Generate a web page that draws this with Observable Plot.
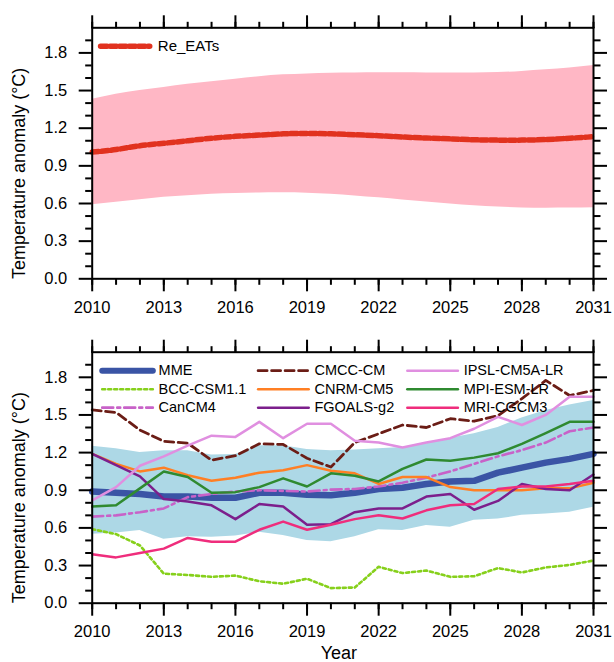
<!DOCTYPE html>
<html><head><meta charset="utf-8">
<script src="https://cdn.jsdelivr.net/npm/d3@7"></script>
<script src="https://cdn.jsdelivr.net/npm/@observablehq/plot@0.6"></script>
<style>
body{margin:0;background:#fff}
#wrap{position:relative;width:614px;height:662px;background:#fff}
#wrap svg{position:absolute;left:0;overflow:visible}
</style>
</head><body><div id="wrap"></div>
<script>
// ---------- data ----------
const years = [2010,2011,2012,2013,2014,2015,2016,2017,2018,2019,2020,2021,2022,2023,2024,2025,2026,2027,2028,2029,2030,2031];

// Top panel
const reEATs  = [1.01,1.03,1.06,1.08,1.10,1.12,1.135,1.145,1.155,1.158,1.155,1.148,1.14,1.13,1.122,1.115,1.108,1.105,1.105,1.11,1.12,1.132];
const reUpper = [1.43,1.47,1.50,1.525,1.55,1.57,1.59,1.61,1.625,1.632,1.638,1.64,1.641,1.641,1.64,1.639,1.64,1.643,1.652,1.665,1.68,1.70];
const reLower = [0.59,0.61,0.63,0.65,0.662,0.673,0.68,0.684,0.685,0.682,0.674,0.66,0.645,0.628,0.612,0.597,0.583,0.572,0.565,0.563,0.564,0.566];

// Bottom panel
const mmeUpper = [1.25,1.23,1.20,1.215,1.215,1.18,1.185,1.255,1.255,1.225,1.215,1.22,1.23,1.24,1.27,1.315,1.35,1.40,1.475,1.535,1.58,1.615];
const mmeLower = [0.55,0.56,0.58,0.51,0.53,0.525,0.535,0.565,0.54,0.50,0.49,0.53,0.585,0.58,0.62,0.605,0.66,0.67,0.70,0.71,0.725,0.765];
const MME      = [0.89,0.88,0.87,0.85,0.85,0.84,0.84,0.88,0.88,0.865,0.86,0.88,0.91,0.92,0.95,0.97,0.975,1.04,1.08,1.12,1.15,1.19];
const BCC      = [0.59,0.55,0.46,0.235,0.225,0.21,0.22,0.175,0.155,0.195,0.12,0.125,0.29,0.24,0.26,0.21,0.215,0.28,0.245,0.285,0.305,0.34];
const CanCM4   = [0.69,0.70,0.725,0.755,0.845,0.87,0.89,0.90,0.895,0.89,0.905,0.91,0.93,0.96,1.00,1.05,1.11,1.17,1.22,1.28,1.37,1.40];
const CMCC     = [1.54,1.52,1.38,1.29,1.275,1.14,1.175,1.27,1.265,1.155,1.085,1.28,1.35,1.42,1.40,1.47,1.45,1.495,1.63,1.775,1.655,1.695];
const CNRM     = [1.19,1.11,1.05,1.08,1.02,0.975,1.0,1.04,1.06,1.10,1.055,1.035,0.95,1.005,1.005,0.925,0.90,0.90,0.90,0.915,0.915,0.96];
const FGOALS   = [1.19,1.10,1.01,0.83,0.81,0.78,0.67,0.79,0.77,0.625,0.63,0.725,0.755,0.755,0.85,0.87,0.745,0.815,0.95,0.91,0.90,1.025];
const IPSL     = [0.82,0.925,1.095,1.17,1.255,1.335,1.325,1.445,1.315,1.43,1.43,1.295,1.28,1.24,1.28,1.315,1.39,1.485,1.42,1.50,1.645,1.645];
const MPI      = [0.77,0.78,0.915,1.05,1.005,0.88,0.885,0.925,0.995,0.93,1.035,1.015,0.97,1.07,1.145,1.135,1.16,1.195,1.27,1.355,1.445,1.445];
const MRI      = [0.39,0.365,0.40,0.435,0.52,0.49,0.49,0.585,0.65,0.585,0.625,0.67,0.70,0.675,0.74,0.78,0.79,0.91,0.93,0.93,0.95,0.975];

const modelNames  = ["MME","BCC-CSM1.1","CanCM4","CMCC-CM","CNRM-CM5","FGOALS-g2","IPSL-CM5A-LR","MPI-ESM-LR","MRI-CGCM3"];
const modelValues = [MME, BCC, CanCM4, CMCC, CNRM, FGOALS, IPSL, MPI, MRI];

const xMajorTicks = [2010,2013,2016,2019,2022,2025,2028,2031];
const xMinorTicks = years;
const yMajorTicks = [0.0,0.3,0.6,0.9,1.2,1.5,1.8];
const yMinorTicks = [0.1,0.2,0.4,0.5,0.7,0.8,1.0,1.1,1.3,1.4,1.6,1.7,1.9];
const yTitle = "Temperature anomaly (°C)";
const xTitle = "Year";

// ---------- styles ----------
const font = "'Liberation Sans', Arial, Helvetica, sans-serif";
const styles = {
  "MME":          {stroke:"#3a54a5", strokeWidth:6.5},
  "BCC-CSM1.1":   {stroke:"#86d01b", strokeWidth:2.6, strokeDasharray:"3,3"},
  "CanCM4":       {stroke:"#c862c8", strokeWidth:2.6, strokeDasharray:"11,4,3,4"},
  "CMCC-CM":      {stroke:"#6b1d16", strokeWidth:2.8, strokeDasharray:"9,4.5"},
  "CNRM-CM5":     {stroke:"#ff7f24", strokeWidth:2.5},
  "FGOALS-g2":    {stroke:"#7c1f8c", strokeWidth:2.5},
  "IPSL-CM5A-LR": {stroke:"#e08fe0", strokeWidth:2.5},
  "MPI-ESM-LR":   {stroke:"#2f8a30", strokeWidth:2.5},
  "MRI-CGCM3":    {stroke:"#ef2d7c", strokeWidth:2.5}
};

const W = 614;
const mL = 91.7, mR = 21;

function frameAxes() {
  return [
    Plot.frame({strokeWidth: 2}),
    Plot.axisX({anchor:"bottom", ticks:xMajorTicks, tickSize:13, tickPadding:9, strokeWidth:2, fontSize:16.5, tickFormat:d=>String(d), label:null}),
    Plot.axisX({anchor:"bottom", ticks:xMinorTicks, tickSize:6.5, strokeWidth:2, tickFormat:()=>"", label:null}),
    Plot.axisX({anchor:"top", ticks:xMajorTicks, tickSize:13, strokeWidth:2, tickFormat:()=>"", label:null}),
    Plot.axisX({anchor:"top", ticks:xMinorTicks, tickSize:6.5, strokeWidth:2, tickFormat:()=>"", label:null}),
    Plot.axisY({anchor:"left", ticks:yMajorTicks, tickSize:13, tickPadding:12, strokeWidth:2, fontSize:16.5, tickFormat:d3.format(".1f"), label:null}),
    Plot.axisY({anchor:"left", ticks:yMinorTicks, tickSize:6.5, strokeWidth:2, tickFormat:()=>"", label:null}),
    Plot.axisY({anchor:"right", ticks:yMajorTicks, tickSize:13, strokeWidth:2, tickFormat:()=>"", label:null}),
    Plot.axisY({anchor:"right", ticks:yMinorTicks, tickSize:6.5, strokeWidth:2, tickFormat:()=>"", label:null}),
    Plot.text([yTitle], {frameAnchor:"left", textAnchor:"middle", lineAnchor:"middle", rotate:-90, dx:-73, dy:20, fontSize:18, fill:"black"})
  ];
}

// ---------- top panel ----------
const topData = years.map((y,i)=>({year:y, v:reEATs[i], hi:reUpper[i], lo:reLower[i]}));
const topLegend = [{x:2010.35, y:1.853},{x:2012.41, y:1.853}];
const topChart = Plot.plot({
  width: W, height: 330,
  marginLeft: mL, marginRight: mR, marginTop: 27.3, marginBottom: 51.7,
  style: {fontFamily: font, background: "transparent", overflow: "visible"},
  x: {domain:[2010,2031]},
  y: {domain:[0,2.0]},
  marks: [
    Plot.areaY(topData, {x:"year", y1:"lo", y2:"hi", fill:"#ffb7c5", curve:"natural"}),
    Plot.line(topData, {x:"year", y:"v", stroke:"#e1321f", strokeWidth:5.5, strokeDasharray:"6.5,3", curve:"natural"}),
    Plot.line(topLegend, {x:"x", y:"y", stroke:"#e1321f", strokeWidth:5.5, strokeDasharray:"6.5,3"}),
    Plot.text(["Re_EATs"], {x:2012.75, y:1.853, textAnchor:"start", lineAnchor:"middle", fontSize:15, fill:"black"}),
    ...frameAxes()
  ]
});
topChart.style.top = "0px";

// ---------- bottom panel ----------
const bandData = years.map((y,i)=>({year:y, hi:mmeUpper[i], lo:mmeLower[i]}));
const legColX = [2010.42, 2016.95, 2023.2];
const legRowY = [1.853, 1.705, 1.558];
const legLen = 2.12, legGap = 2.36;

const seriesMarks = [];
const legendMarks = [];
modelNames.forEach((name, k) => {
  const d = years.map((y,i)=>({year:y, v:modelValues[k][i]}));
  seriesMarks.push(Plot.line(d, {x:"year", y:"v", ...styles[name]}));
  const cx = legColX[Math.floor(k/3)], ry = legRowY[k%3];
  legendMarks.push(Plot.line([{x:cx, y:ry},{x:cx+legLen, y:ry}], {x:"x", y:"y", ...styles[name], strokeWidth: name==="MME"?6:styles[name].strokeWidth}));
  legendMarks.push(Plot.text([name], {x:cx+legGap, y:ry, textAnchor:"start", lineAnchor:"middle", fontSize:14.5, fill:"black"}));
});

const bottomChart = Plot.plot({
  width: W, height: 332,
  marginLeft: mL, marginRight: mR, marginTop: 21.7, marginBottom: 59.3,
  style: {fontFamily: font, background: "transparent", overflow: "visible"},
  x: {domain:[2010,2031]},
  y: {domain:[0,2.0]},
  marks: [
    Plot.areaY(bandData, {x:"year", y1:"lo", y2:"hi", fill:"#add8e6"}),
    ...seriesMarks,
    ...legendMarks,
    ...frameAxes(),
    Plot.text([xTitle], {frameAnchor:"bottom", textAnchor:"middle", lineAnchor:"middle", dx:-4, dy:50.3, fontSize:18, fill:"black"})
  ]
});
bottomChart.style.top = "330px";

const wrap = document.getElementById("wrap");
wrap.appendChild(topChart);
wrap.appendChild(bottomChart);
</script>
</body></html>
